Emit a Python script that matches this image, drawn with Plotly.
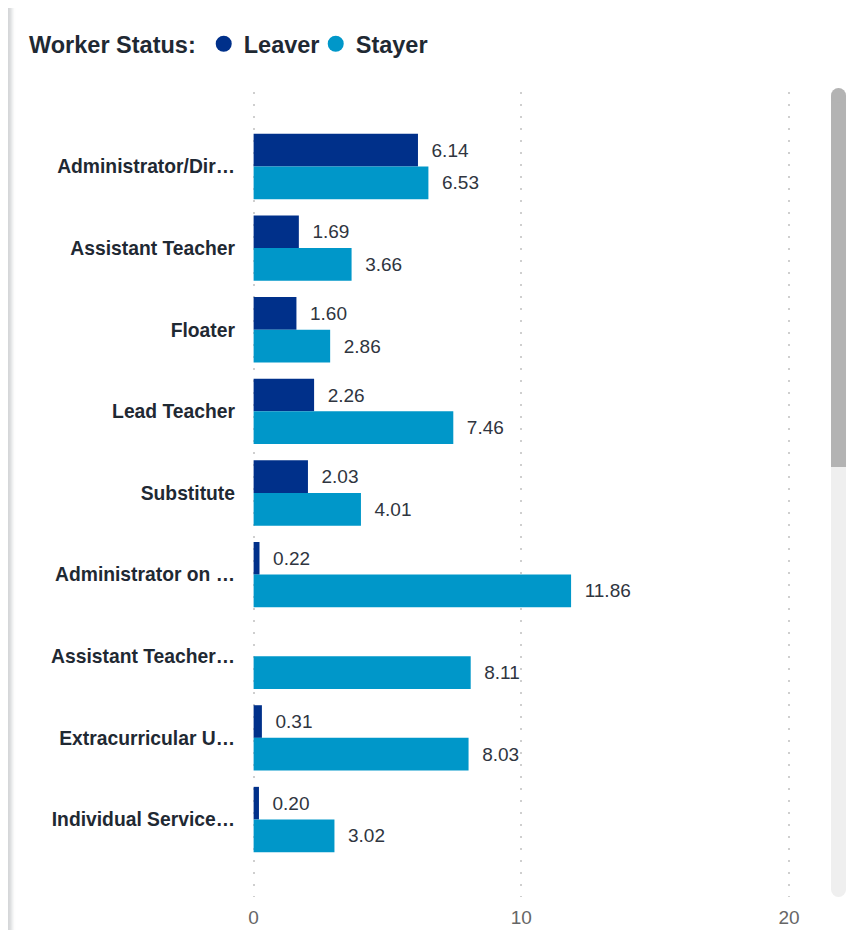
import plotly.graph_objects as go

# ---- data ----
categories = [
    "Administrator/Dir…",
    "Assistant Teacher",
    "Floater",
    "Lead Teacher",
    "Substitute",
    "Administrator on …",
    "Assistant Teacher…",
    "Extracurricular U…",
    "Individual Service…",
]
leaver = [6.14, 1.69, 1.60, 2.26, 2.03, 0.22, None, 0.31, 0.20]
stayer = [6.53, 3.66, 2.86, 7.46, 4.01, 11.86, 8.11, 8.03, 3.02]
series_names = ["Leaver", "Stayer"]
series_colors = ["#00308A", "#0097C9"]
x_ticks = [0, 10, 20]
legend_title = "Worker Status:"

# ---- layout geometry (figure pixels) ----
W, H = 843, 922
SCALE = 26.75            # px per unit on the value axis
X_MIN = -0.06
ML = 246 + X_MIN * SCALE
MR, MT, MB = 35, 84, 33
PW, PH = W - ML - MR, H - MT - MB


def px_x(v):
    return (v - ML) / PW


def px_y(v):
    return 1 - (v - MT) / PH


FONT = "Liberation Sans, Arial, sans-serif"
fig = go.Figure()

for name, vals, col in zip(series_names, [leaver, stayer], series_colors):
    fig.add_trace(go.Bar(
        y=categories,
        x=vals,
        orientation="h",
        name=name,
        marker=dict(color=col, line=dict(width=0)),
        text=[("  " + f"{v:.2f}") if v is not None else "" for v in vals],
        textposition="outside",
        constraintext="none",
        cliponaxis=False,
        textfont=dict(family=FONT, size=19, color="#2f3540"),
        showlegend=False,
        hoverinfo="x+y+name",
    ))

# legend entries with round markers
for name, col in zip(series_names, series_colors):
    fig.add_trace(go.Scatter(
        x=[None], y=[None], mode="markers", name=name,
        marker=dict(color=col, size=19, symbol="circle"),
        showlegend=True,
    ))

shapes = []
# left card shadow
shade = ["#c4c7ca", "#c8cbce", "#cdd0d2", "#d6d8da", "#e2e3e4", "#eeefef", "#f7f7f7", "#fdfdfd"]
for i, c in enumerate(shade):
    shapes.append(dict(type="rect", xref="paper", yref="paper",
                       x0=px_x(i), x1=px_x(i + 1), y0=px_y(H), y1=px_y(0),
                       fillcolor=c, line=dict(width=0), layer="below"))
# scrollbar track and thumb
sx0, sx1 = 823, 838
shapes.append(dict(type="rect", xref="paper", yref="paper",
                   x0=px_x(sx0), x1=px_x(sx1), y0=px_y(882), y1=px_y(88),
                   fillcolor="#efefef", line=dict(width=0)))
shapes.append(dict(type="circle", xref="paper", yref="paper",
                   x0=px_x(sx0), x1=px_x(sx1), y0=px_y(889), y1=px_y(874),
                   fillcolor="#efefef", line=dict(width=0)))
shapes.append(dict(type="rect", xref="paper", yref="paper",
                   x0=px_x(sx0), x1=px_x(sx1), y0=px_y(459), y1=px_y(88),
                   fillcolor="#b3b3b3", line=dict(width=0)))
shapes.append(dict(type="circle", xref="paper", yref="paper",
                   x0=px_x(sx0), x1=px_x(sx1), y0=px_y(95), y1=px_y(80),
                   fillcolor="#b3b3b3", line=dict(width=0)))

fig.update_layout(
    width=W, height=H,
    margin=dict(l=ML, r=MR, t=MT, b=MB, pad=0),
    paper_bgcolor="white", plot_bgcolor="white",
    barmode="group", bargap=0.2, bargroupgap=0,
    font=dict(family=FONT, color="#1f2933"),
    showlegend=True,
    legend=dict(
        orientation="h",
        xref="container", yref="container",
        x=19 / W, y=1 - 14 / H, xanchor="left", yanchor="top",
        title=dict(text=legend_title, font=dict(family=FONT, size=23.5, color="#1f2933", weight="bold")),
        font=dict(family=FONT, size=23.5, color="#1f2933", weight="bold"),
        entrywidth=67, entrywidthmode="pixels",
        bgcolor="rgba(0,0,0,0)", borderwidth=0,
        itemclick=False, itemdoubleclick=False,
    ),
    xaxis=dict(
        range=[X_MIN, X_MIN + PW / SCALE],
        tickvals=x_ticks,
        showgrid=True, gridcolor="#cfcfcf", gridwidth=2, griddash="2px,10px",
        zeroline=False, showline=False, ticks="",
        tickfont=dict(family=FONT, size=19, color="#666666"),
        ticklabelstandoff=7,
        automargin=False, fixedrange=True,
    ),
    yaxis=dict(
        type="category",
        categoryorder="array", categoryarray=categories,
        range=[8.9495, -0.9127],
        showgrid=False, zeroline=False, showline=False, ticks="",
        tickfont=dict(family=FONT, size=19.3, color="#1f2933", weight="bold"),
        ticklabelstandoff=16,
        automargin=False, fixedrange=True,
    ),
    shapes=shapes,
)

fig.write_html("out.html")
